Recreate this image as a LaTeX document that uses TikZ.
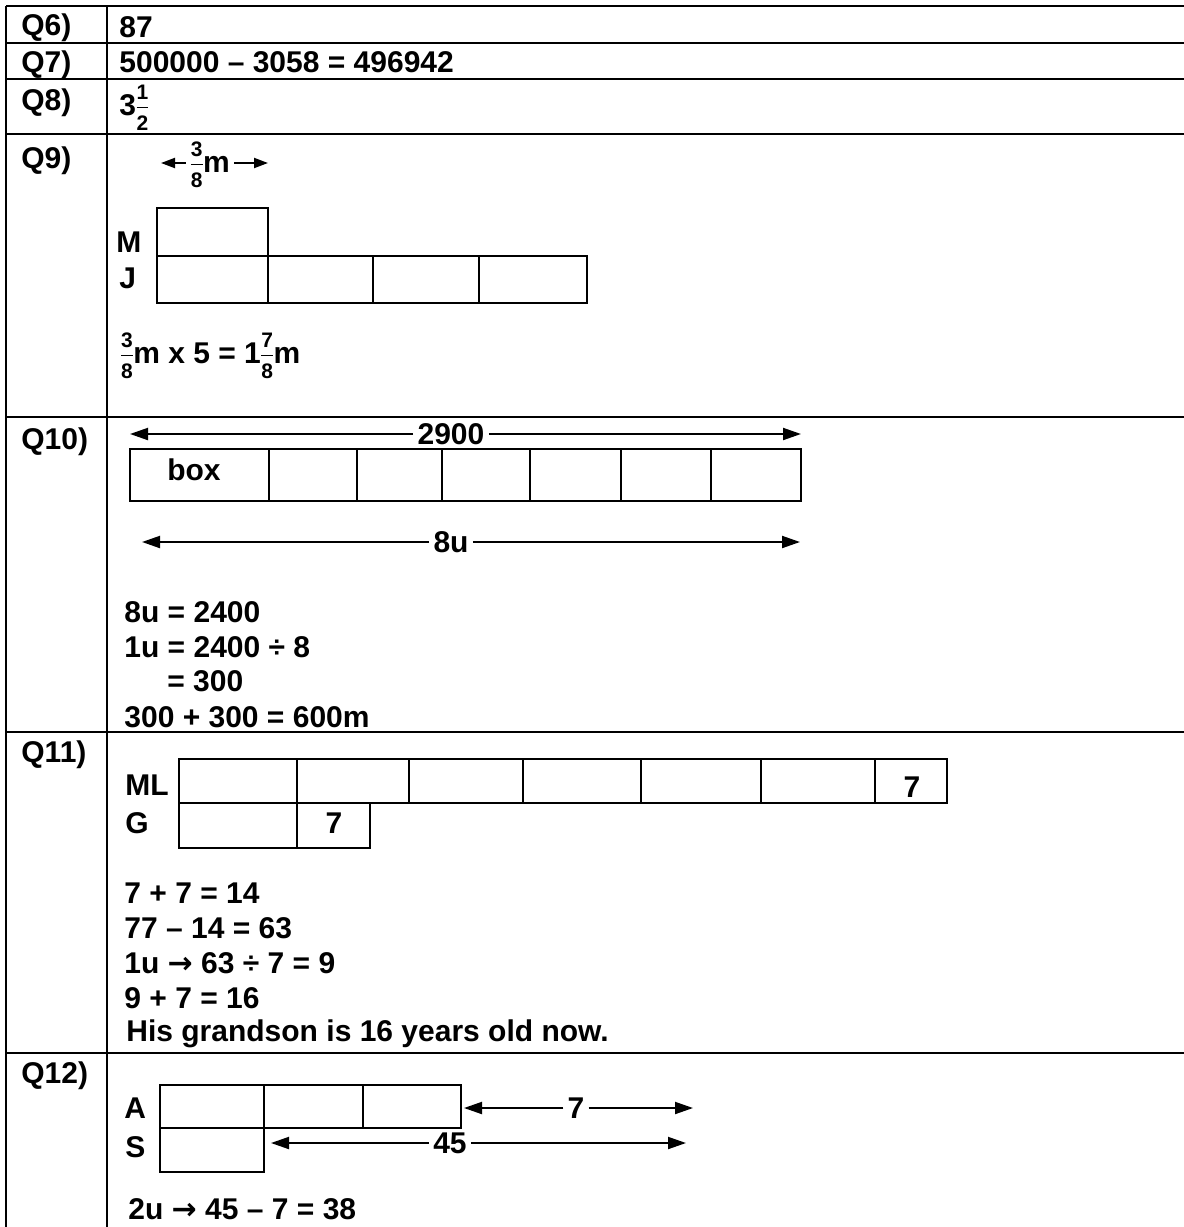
\documentclass[tikz,border=0pt]{standalone}
\usepackage{fontspec}
\setmainfont{Liberation Sans}
\newfontfamily\arrowfont{DejaVu Sans}
\usetikzlibrary{arrows.meta}

% stacked fraction in text font
\newcommand\fr[2]{\begingroup\fontsize{10.5}{10.5}\selectfont
    \setbox0\hbox{#1}\setbox2\hbox{#2}%
    \dimen0=\ifdim\wd0>\wd2 \wd0\else\wd2\fi
    \kern0.3pt\raisebox{8pt}{\hbox to\dimen0{\hss\box0\hss}}\kern-\dimen0
    \rlap{\raisebox{3.6pt}{\rule{\dimen0}{0.5pt}}}%
    \raisebox{-7.5pt}{\hbox to\dimen0{\hss\box2\hss}}\kern0.3pt\endgroup}
\newcommand\toarrow{{\arrowfont →}}

\tikzset{
    tableline/.style={line width=1.2pt},
    cellbox/.style={line width=1pt},
    qlabel/.style={anchor=base west, inner sep=0pt},
    answer/.style={anchor=base west, inner sep=0pt},
    dimlabel/.style={inner sep=2pt},
    dimarrow/.style={line width=1pt, -{Triangle[length=9pt,width=6pt]}},
    smallarrow/.style={line width=1pt, -{Triangle[length=7pt,width=5pt]}},
}

\begin{document}
\begin{tikzpicture}[x=0.5pt, y=-0.5pt, font=\fontsize{15}{18}\selectfont\bfseries]
    \def\W{1184}
    \def\H{1227}
    \useasboundingbox (0,0) rectangle (\W,\H);

    % Table rules
    \foreach \y in {6,43,79,134,417,732,1053} {
        \draw[tableline] (6,\y) -- (\W,\y);
    }
    \draw[tableline] (6,6) -- (6,\H);
    \draw[tableline] (107,6) -- (107,\H);

    % Question labels
    \foreach \q/\y in {6/35,7/72,8/110,9/168,10/449,11/762,12/1083} {
        \node[qlabel] (q\q) at (21,\y) {Q\q)};
    }

    % Q6 - Q8
    \node[answer] (a6) at (119,37) {87};
    \node[answer] (a7) at (119,72) {500000 – 3058 = 496942};
    \node[answer] (a8) at (119,115) {3\fr{1}{2}};

    % Q9
    \node[dimlabel, anchor=base] (d9) at (210,172) {\fr{3}{8}m};
    \coordinate (d9l) at (161,163);
    \coordinate (d9r) at (268,163);
    \draw[smallarrow] (d9.west |- d9l) -- (d9l);
    \draw[smallarrow] (d9.east |- d9r) -- (d9r);

    \draw[cellbox] (157,208) rectangle (268,256);
    \foreach \xa/\xb in {157/268,268/373,373/479,479/587} {
        \draw[cellbox] (\xa,256) rectangle (\xb,303);
    }
    \node[answer] (m9) at (116,252) {M};
    \node[answer] (j9) at (119,288) {J};
    \node[answer] (a9) at (120,363) {\fr{3}{8}m x 5 = 1\fr{7}{8}m};

    % Q10
    \node[dimlabel] (d10a) at (451,434) {2900};
    \coordinate (d10al) at (130,434);
    \coordinate (d10ar) at (801,434);
    \draw[dimarrow] (d10a.west |- d10al) -- (d10al);
    \draw[dimarrow] (d10a.east |- d10ar) -- (d10ar);

    \foreach \xa/\xb in {130/269,269/357,357/442,442/530,530/621,621/711,711/801} {
        \draw[cellbox] (\xa,449) rectangle (\xb,501);
    }
    \node[answer, anchor=base] (bx) at (194,480) {box};

    \node[dimlabel] (d10b) at (451,542) {8u};
    \coordinate (d10bl) at (142,542);
    \coordinate (d10br) at (800,542);
    \draw[dimarrow] (d10b.west |- d10bl) -- (d10bl);
    \draw[dimarrow] (d10b.east |- d10br) -- (d10br);

    \node[answer] (a10a) at (124,622) {8u = 2400};
    \node[answer] (a10b) at (124,657) {1u = 2400 ÷ 8};
    \node[answer] (a10c) at (167,691) {= 300};
    \node[answer] (a10d) at (124,727) {300 + 300 = 600m};

    % Q11
    \foreach \xa/\xb in {179/297,297/409,409/523,523/641,641/761,761/875,875/947} {
        \draw[cellbox] (\xa,759) rectangle (\xb,803);
    }
    \foreach \xa/\xb in {179/297,297/370} {
        \draw[cellbox] (\xa,803) rectangle (\xb,848);
    }
    \node[answer] (ml11) at (125,795) {ML};
    \node[answer] (g11) at (125,833) {G};
    \node[answer, anchor=base] (ml7) at (912,797) {7};
    \node[answer, anchor=base] (g7) at (334,833) {7};

    \node[answer] (a11a) at (124,903) {7 + 7 = 14};
    \node[answer] (a11b) at (124,938) {77 – 14 = 63};
    \node[answer] (a11c) at (124,973) {1u \toarrow{} 63 ÷ 7 = 9};
    \node[answer] (a11d) at (124,1008) {9 + 7 = 16};
    \node[answer] (a11e) at (126,1041) {His grandson is 16 years old now.};

    % Q12
    \foreach \xa/\xb in {160/264,264/363,363/461} {
        \draw[cellbox] (\xa,1085) rectangle (\xb,1128);
    }
    \draw[cellbox] (160,1128) rectangle (264,1172);
    \node[answer] (a12) at (124,1118) {A};
    \node[answer] (s12) at (125,1157) {S};

    \node[dimlabel] (d12a) at (576,1108) {7};
    \coordinate (d12al) at (464,1108);
    \coordinate (d12ar) at (693,1108);
    \draw[dimarrow] (d12a.west |- d12al) -- (d12al);
    \draw[dimarrow] (d12a.east |- d12ar) -- (d12ar);

    \node[dimlabel] (d12b) at (450,1143) {45};
    \coordinate (d12bl) at (271,1143);
    \coordinate (d12br) at (686,1143);
    \draw[dimarrow] (d12b.west |- d12bl) -- (d12bl);
    \draw[dimarrow] (d12b.east |- d12br) -- (d12br);

    \node[answer] (a12b) at (128,1219) {2u \toarrow{} 45 – 7 = 38};
\end{tikzpicture}
\end{document}
